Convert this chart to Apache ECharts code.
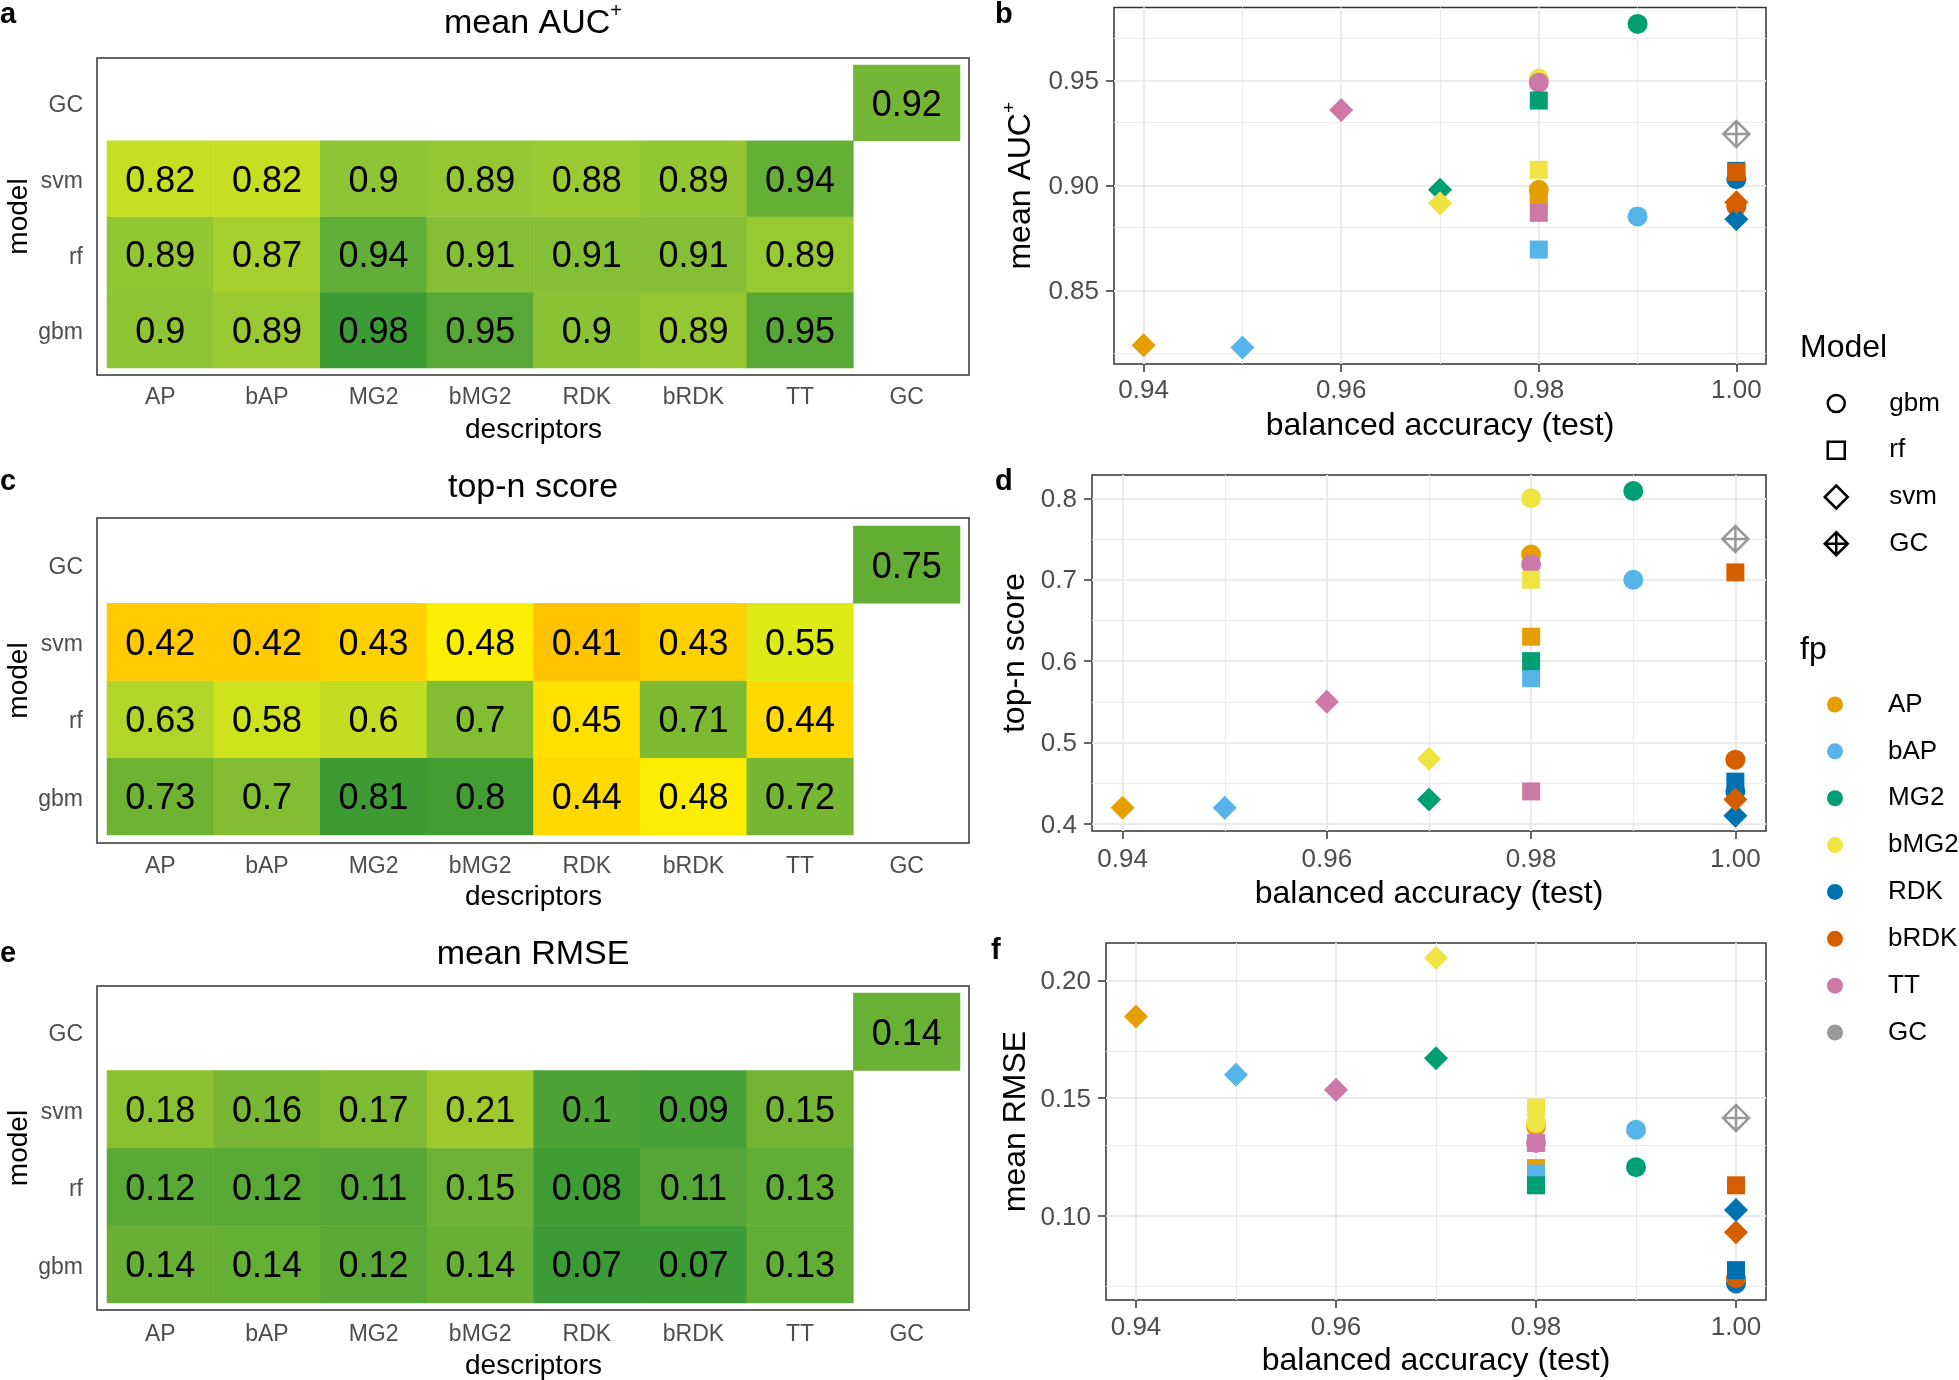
<!DOCTYPE html>
<html><head><meta charset="utf-8">
<script src="https://cdn.jsdelivr.net/npm/echarts@6/dist/echarts.min.js"></script>
<style>html,body{margin:0;padding:0;background:#fff}#chart{width:1959px;height:1380px}</style>
</head><body><div id="chart"></div>
<script>
// ---------------- DATA ----------------
const descriptors = ['AP', 'bAP', 'MG2', 'bMG2', 'RDK', 'bRDK', 'TT', 'GC'];
const models = ['gbm', 'rf', 'svm', 'GC'];
const fps = ['AP', 'bAP', 'MG2', 'bMG2', 'RDK', 'bRDK', 'TT'];

// balanced accuracy (test), fp order
const baGbm = [0.98, 0.99, 0.99, 0.98, 1.00, 1.00, 0.98];
const baRf  = [0.98, 0.98, 0.98, 0.98, 1.00, 1.00, 0.98];
const baSvm = [0.94, 0.95, 0.97, 0.97, 1.00, 1.00, 0.96];
const baGC = 1.00;

// mean AUC+
const aucGbm = [0.898, 0.8853, 0.977, 0.951, 0.903, 0.890, 0.949];
const aucRf  = [0.893, 0.8695, 0.9405, 0.9075, 0.907, 0.9065, 0.887];
const aucSvm = [0.8239, 0.8228, 0.898, 0.8916, 0.884, 0.892, 0.936];
const aucGC = 0.9245;

// top-n score
const topnGbm = [0.731, 0.700, 0.809, 0.800, 0.440, 0.479, 0.719];
const topnRf  = [0.630, 0.579, 0.600, 0.700, 0.452, 0.709, 0.440];
const topnSvm = [0.420, 0.420, 0.430, 0.480, 0.410, 0.430, 0.550];
const topnGC = 0.750;

// mean RMSE
const rmseGbm = [0.138, 0.1366, 0.1207, 0.1395, 0.0713, 0.0736, 0.131];
const rmseRf  = [0.1203, 0.118, 0.113, 0.146, 0.077, 0.113, 0.131];
const rmseSvm = [0.1847, 0.160, 0.167, 0.2095, 0.1025, 0.0931, 0.1536];
const rmseGC = 0.1416;

// tick values
const xTicks = [0.94, 0.96, 0.98, 1.00];
const xMinor = [0.95, 0.97, 0.99];
const aucTicks = [0.85, 0.90, 0.95];
const aucMinor = [0.825, 0.875, 0.925, 0.975];
const topnTicks = [0.4, 0.5, 0.6, 0.7, 0.8];
const topnMinor = [0.45, 0.55, 0.65, 0.75];
const rmseTicks = [0.10, 0.15, 0.20];
const rmseMinor = [0.075, 0.125, 0.175];

// ---------------- STYLE ----------------
const FONT = 'Liberation Sans, Arial, sans-serif';
const fpColors = ['#E69F00', '#56B4E9', '#009E73', '#F0E442', '#0072B2', '#D55E00', '#CC79A7'];
const gcColor = '#999999';
const aucColors = ['#C8E021', '#ADD42A', '#8DC335', '#62AD37', '#3A9A35'];
const topnColors = ['#FFBC00', '#FFEE00', '#E3EC13', '#BEDC25', '#90C431', '#62AD33', '#379733'];
const rmseColors = ['#3A9A35', '#4EA436', '#68B035', '#84BD31', '#9DC92E'];
const gcPath = 'path://M0,-10L10,0L0,10L-10,0ZM0,-10L0,10M-10,0L10,0';
const shapes = { gbm: 'circle', rf: 'rect', svm: 'diamond', GC: gcPath };
const sizes = { gbm: 20, rf: 18, svm: 24 };

function fmt2(v) { return String(Math.round(v * 100) / 100); }

function heatData(g, r, s, gc) {
  const d = [];
  [g, r, s].forEach((arr, yi) => arr.forEach((v, xi) => d.push([xi, yi, v])));
  d.push([7, 3, gc]);
  return d;
}

function heatSeries(ai, g, r, s, gc) {
  return {
    type: 'heatmap', xAxisIndex: ai, yAxisIndex: ai,
    data: heatData(g, r, s, gc),
    label: { show: true, fontSize: 36, color: '#000', fontFamily: FONT, offset: [0, 3],
      formatter: p => fmt2(p.value[2]) },
    emphasis: { disabled: true }, silent: true
  };
}

function gridLines(yMajor, yMinor) {
  const ls = w => ({ color: '#EBEBEB', width: w, type: 'solid' });
  const d = [];
  xTicks.forEach(v => d.push({ xAxis: v, lineStyle: ls(2.2) }));
  xMinor.forEach(v => d.push({ xAxis: v, lineStyle: ls(1.1) }));
  yMajor.forEach(v => d.push({ yAxis: v, lineStyle: ls(2.2) }));
  yMinor.forEach(v => d.push({ yAxis: v, lineStyle: ls(1.1) }));
  return { silent: true, symbol: ['none', 'none'], label: { show: false }, z: 1,
    animation: false, emphasis: { disabled: true }, data: d };
}

function scatterSeries(ai, g, r, s, gc, yMajor, yMinor) {
  const list = [];
  [['gbm', baGbm, g], ['rf', baRf, r], ['svm', baSvm, s]].forEach(([m, ba, vals], k) => {
    const ser = {
      type: 'scatter', name: m, xAxisIndex: ai, yAxisIndex: ai, z: 3,
      symbol: shapes[m], symbolSize: sizes[m], silent: true,
      itemStyle: { opacity: 1 },
      data: vals.map((v, i) => ({ value: [ba[i], v], itemStyle: { color: fpColors[i], opacity: 1 } }))
    };
    if (k === 0) ser.markLine = gridLines(yMajor, yMinor);
    list.push(ser);
  });
  list.push({
    type: 'scatter', name: 'GC', xAxisIndex: ai, yAxisIndex: ai, z: 3, silent: true,
    symbol: gcPath, symbolSize: 26, symbolKeepAspect: true,
    itemStyle: { color: 'rgba(0,0,0,0)', borderColor: gcColor, borderWidth: 2.5, opacity: 1 },
    data: [[baGC, gc]]
  });
  return list;
}

function heatX(gi, margin, nameGap) {
  return { type: 'category', gridIndex: gi, data: descriptors,
    axisLine: { show: false }, axisTick: { show: false }, splitLine: { show: false },
    axisLabel: { fontSize: 23, color: '#4D4D4D', margin, fontFamily: FONT },
    name: 'descriptors', nameLocation: 'middle', nameGap, nameMoveOverlap: false,
    nameTextStyle: { fontSize: 28, color: '#000', fontFamily: FONT } };
}
function heatY(gi) {
  return { type: 'category', gridIndex: gi, data: models,
    axisLine: { show: false }, axisTick: { show: false }, splitLine: { show: false },
    axisLabel: { fontSize: 23, color: '#4D4D4D', margin: 24, fontFamily: FONT,
      formatter: v => '{p|' + v + '}',
      rich: { p: { fontSize: 23, color: '#4D4D4D', fontFamily: FONT, padding: [6, 0, 0, 0] } } },
    name: 'model', nameLocation: 'middle', nameRotate: 90, nameGap: 74, nameMoveOverlap: false,
    nameTextStyle: { fontSize: 28, color: '#000', fontFamily: FONT } };
}
function scX(gi, margin, nameGap) {
  return { type: 'value', gridIndex: gi, min: 0.937, max: 1.003,
    axisLine: { show: false },
    axisTick: { show: true, length: 8, lineStyle: { color: '#333', width: 1.5 }, customValues: xTicks },
    axisLabel: { customValues: xTicks, formatter: v => v.toFixed(2), fontSize: 26, color: '#4D4D4D', margin, fontFamily: FONT },
    splitLine: { show: false },
    name: 'balanced accuracy (test)', nameLocation: 'middle', nameGap, nameMoveOverlap: false,
    nameTextStyle: { fontSize: 32, color: '#000', fontFamily: FONT } };
}
function scY(gi, min, max, ticks, dec, name, nameGap, rich) {
  return { type: 'value', gridIndex: gi, min, max,
    axisLine: { show: false },
    axisTick: { show: true, length: 8, lineStyle: { color: '#333', width: 1.5 }, customValues: ticks },
    axisLabel: { customValues: ticks, fontSize: 26, color: '#4D4D4D', margin: 15, fontFamily: FONT,
      formatter: v => '{p|' + v.toFixed(dec) + '}',
      rich: { p: { fontSize: 26, color: '#4D4D4D', fontFamily: FONT, padding: [3, 0, 0, 0] } } },
    splitLine: { show: false },
    name, nameLocation: 'middle', nameRotate: 90, nameGap, nameMoveOverlap: false,
    nameTextStyle: Object.assign({ fontSize: 32, color: '#000', fontFamily: FONT }, rich ? { rich } : {}) };
}

const scGrid = { show: true, borderColor: '#333', borderWidth: 1.5, backgroundColor: 'transparent', outerBoundsMode: 'none', containLabel: false };
const hGrid = { outerBoundsMode: 'none', containLabel: false };

const series = [
  heatSeries(0, aucGbm, aucRf, aucSvm, aucGC),
  heatSeries(1, topnGbm, topnRf, topnSvm, topnGC),
  heatSeries(2, rmseGbm, rmseRf, rmseSvm, rmseGC),
  ...scatterSeries(3, aucGbm, aucRf, aucSvm, aucGC, aucTicks, aucMinor),
  ...scatterSeries(4, topnGbm, topnRf, topnSvm, topnGC, topnTicks, topnMinor),
  ...scatterSeries(5, rmseGbm, rmseRf, rmseSvm, rmseGC, rmseTicks, rmseMinor),
  ...fps.map((fp, i) => ({ type: 'scatter', name: fp, xAxisIndex: 3, yAxisIndex: 3, data: [], itemStyle: { color: fpColors[i], opacity: 1 } }))
];

const titleStyle = (size, bold) => ({ fontSize: size, fontWeight: bold ? 'bold' : 'normal', color: '#000', fontFamily: FONT });
const supRich = (fs, pad) => ({ sup: { fontSize: fs, padding: [0, 0, pad, 0], color: '#000', fontFamily: FONT } });

const openStyle = { color: 'rgba(0,0,0,0)', borderColor: '#000', borderWidth: 2.5, opacity: 1 };
const legendText = pad => ({ fontSize: 26, color: '#000', fontFamily: FONT, padding: [0, 0, 0, pad] });

const option = {
  animation: false,
  backgroundColor: '#ffffff',
  textStyle: { fontFamily: FONT },
  title: [
    { text: 'a', left: 0, top: 0, padding: 0, textStyle: titleStyle(29, true) },
    { text: 'b', left: 995, top: 0, padding: 0, textStyle: titleStyle(29, true) },
    { text: 'c', left: 0, top: 467, padding: 0, textStyle: titleStyle(29, true) },
    { text: 'd', left: 995, top: 467, padding: 0, textStyle: titleStyle(29, true) },
    { text: 'e', left: 0, top: 939, padding: 0, textStyle: titleStyle(29, true) },
    { text: 'f', left: 991, top: 936, padding: 0, textStyle: titleStyle(29, true) },
    { text: 'mean AUC{sup|+}', left: 533, top: 1, padding: 0, textAlign: 'center',
      textStyle: Object.assign(titleStyle(34, false), { rich: supRich(20, 26) }) },
    { text: 'top-n score', left: 533, top: 471, padding: 0, textAlign: 'center', textStyle: titleStyle(34, false) },
    { text: 'mean RMSE', left: 533, top: 938, padding: 0, textAlign: 'center', textStyle: titleStyle(34, false) },
    { text: 'Model', left: 1800, top: 332.5, padding: 0, textStyle: titleStyle(32, false) },
    { text: 'fp', left: 1800, top: 634.5, padding: 0, textStyle: titleStyle(32, false) }
  ],
  grid: [
    Object.assign({ left: 107, top: 65, width: 853, height: 303 }, hGrid),
    Object.assign({ left: 107, top: 526, width: 853, height: 309 }, hGrid),
    Object.assign({ left: 107, top: 993, width: 853, height: 310 }, hGrid),
    Object.assign({ left: 1114, top: 7.5, width: 652, height: 356.5 }, scGrid),
    Object.assign({ left: 1092, top: 475, width: 674, height: 356 }, scGrid),
    Object.assign({ left: 1106, top: 943, width: 660, height: 357 }, scGrid)
  ],
  xAxis: [
    heatX(0, 18, 48), heatX(1, 20, 48), heatX(2, 20, 49),
    scX(3, 14, 46), scX(4, 15.5, 47), scX(5, 14.5, 45)
  ],
  yAxis: [
    heatY(0), heatY(1), heatY(2),
    scY(3, 0.815, 0.9848, aucTicks, 2, 'mean AUC{sup|+}', 71, supRich(19, 24)),
    scY(4, 0.3914, 0.8286, topnTicks, 1, 'top-n score', 60.5),
    scY(5, 0.0643, 0.2159, rmseTicks, 2, 'mean RMSE', 74)
  ],
  visualMap: [
    { type: 'continuous', show: false, seriesIndex: 0, dimension: 2, min: 0.82, max: 0.98, inRange: { color: aucColors } },
    { type: 'continuous', show: false, seriesIndex: 1, dimension: 2, min: 0.40, max: 0.82, inRange: { color: topnColors } },
    { type: 'continuous', show: false, seriesIndex: 2, dimension: 2, min: 0.07, max: 0.21, inRange: { color: rmseColors } }
  ],
  legend: [
    { orient: 'vertical', left: 1826.5, top: 390.5, padding: 0, itemWidth: 17, itemHeight: 17, itemGap: 20.7,
      selectedMode: false, textStyle: legendText(39.5), itemStyle: openStyle,
      data: models.slice(0, 2).map(m => ({ name: m, icon: shapes[m] })) },
    { orient: 'vertical', left: 1823.5, top: 484, padding: 0, itemWidth: 23, itemHeight: 23, itemGap: 20.7,
      selectedMode: false, textStyle: legendText(36.5), itemStyle: openStyle,
      data: models.slice(2).map(m => ({ name: m, icon: shapes[m] })) },
    { orient: 'vertical', left: 1827, top: 691.5, padding: 0, itemWidth: 16, itemHeight: 16, itemGap: 20.86,
      selectedMode: false, textStyle: legendText(40),
      data: fps.map((fp, i) => ({ name: fp, icon: 'circle', itemStyle: { color: fpColors[i], borderWidth: 0, opacity: 1 } }))
        .concat([{ name: 'GC', icon: 'circle', itemStyle: { color: gcColor, borderWidth: 0, opacity: 1 } }]) }
  ],
  graphic: [
    { type: 'rect', silent: true, z: 10, shape: { x: 97, y: 58, width: 872, height: 317 }, style: { fill: 'none', stroke: '#333', lineWidth: 1.5 } },
    { type: 'rect', silent: true, z: 10, shape: { x: 97, y: 518, width: 872, height: 325 }, style: { fill: 'none', stroke: '#333', lineWidth: 1.5 } },
    { type: 'rect', silent: true, z: 10, shape: { x: 97, y: 986, width: 872, height: 324 }, style: { fill: 'none', stroke: '#333', lineWidth: 1.5 } }
  ],
  series
};

const chart = echarts.init(document.getElementById('chart'), null, { renderer: 'canvas', width: 1959, height: 1380 });
chart.setOption(option);
</script>
</body></html>
